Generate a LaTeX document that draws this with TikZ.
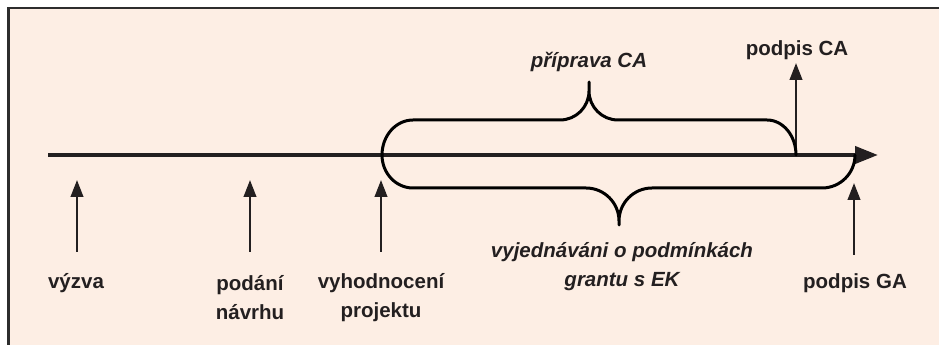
\documentclass[tikz,border=0pt]{standalone}
\usepackage{fontspec}
\setmainfont{Liberation Sans}
\usetikzlibrary{arrows.meta}
\definecolor{panel}{RGB}{253,238,228}
\definecolor{ink}{RGB}{35,31,32}
\definecolor{rim}{RGB}{45,45,45}
\begin{document}
\begin{tikzpicture}[x=1pt,y=1pt,
  lbl/.style={text=ink,font=\fontsize{20.5}{29}\selectfont\bfseries,align=center,inner sep=0pt},
  ilbl/.style={lbl,font=\fontsize{20.5}{29}\selectfont\bfseries\itshape},
  evt/.style={draw=ink,line width=2.5pt,-{Triangle[length=17pt,width=12.5pt]}},
  axisline/.style={draw=ink,line width=4pt,-{Triangle[length=23pt,width=17pt]}},
  brace/.style={draw=black,line width=3pt,line join=round,line cap=round}]
% canvas and panel
\useasboundingbox (0,0) rectangle (939,345);
\fill[white] (0,0) rectangle (939,345);
\fill[panel] (8.5,0) rectangle (939,337);
\draw[rim,line width=2.5pt] (8.5,0) -- (8.5,337) -- (939,337);

% time axis
\coordinate (t0) at (48,190);
\coordinate (t1) at (878,190);
\draw[axisline] (t0) -- (t1);

% milestone arrows below the axis
\coordinate (v0) at (77,93);   \coordinate (v1) at (77,165);
\coordinate (p0) at (250,93);  \coordinate (p1) at (250,165);
\coordinate (h0) at (381,93);  \coordinate (h1) at (381,165);
\coordinate (g0) at (854,90);  \coordinate (g1) at (854,162);
\draw[evt] (v0) -- (v1);
\draw[evt] (p0) -- (p1);
\draw[evt] (h0) -- (h1);
\draw[evt] (g0) -- (g1);

% signature of CA above the axis
\coordinate (c0) at (796,190); \coordinate (c1) at (796,282);
\draw[evt] (c0) -- (c1);

% upper brace: preparation of CA
\draw[brace] (382,190) arc[start angle=180,end angle=90,x radius=31,y radius=35]
  -- (560,225) arc[start angle=270,end angle=360,radius=29] -- (589,263)
  -- (589,254) arc[start angle=180,end angle=270,radius=29]
  -- (767,225) arc[start angle=90,end angle=0,x radius=29,y radius=35];

% lower brace: negotiation with the EC
\draw[brace] (382,190) arc[start angle=180,end angle=270,x radius=31,y radius=33]
  -- (586,157) arc[start angle=90,end angle=0,radius=33] -- (619,120)
  -- (619,124) arc[start angle=180,end angle=90,radius=33]
  -- (822,157) arc[start angle=270,end angle=360,radius=33];

% labels
\node[lbl]  (vyzva)  at (76,62)    {výzva};
\node[lbl]  (podani) at (250,47.5) {podání\\návrhu};
\node[lbl]  (vyhod)  at (381,47.5) {vyhodnocení\\projektu};
\node[lbl]  (gasig)  at (855,62)   {podpis GA};
\node[lbl]  (casig)  at (797,295)  {podpis CA};
\node[ilbl] (prip)   at (589,283)  {příprava CA};
\node[ilbl] (vyjed)  at (622,78.5) {vyjednáváni o podmínkách\\grantu s EK};
\end{tikzpicture}
\end{document}
